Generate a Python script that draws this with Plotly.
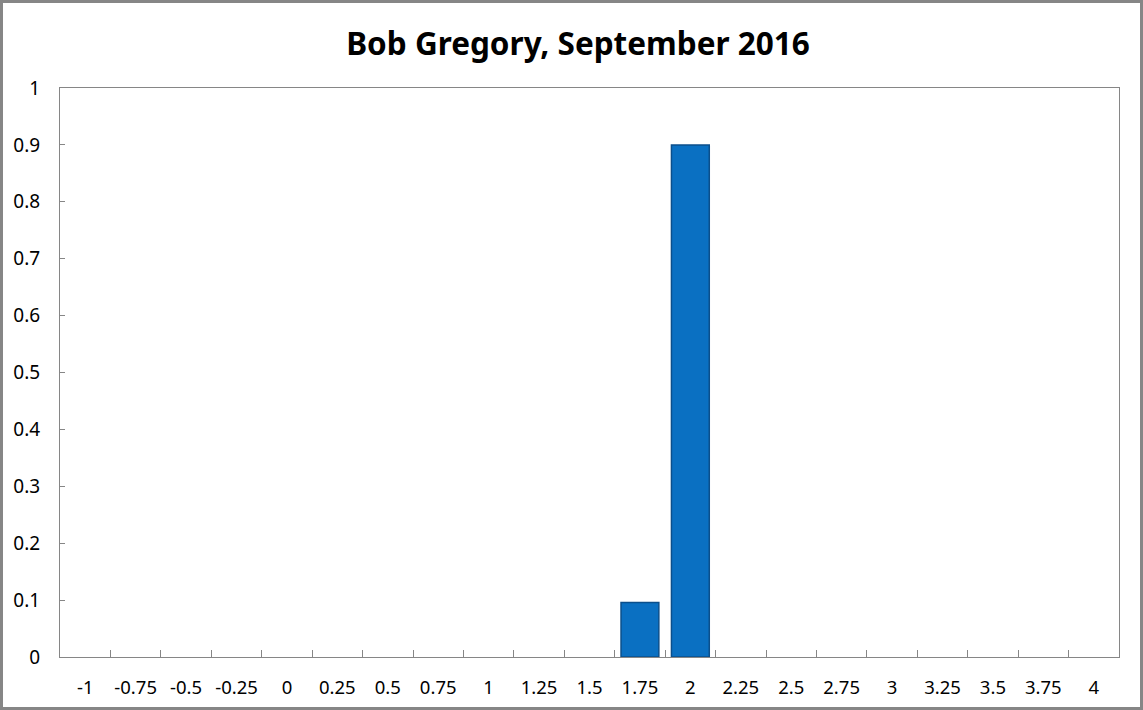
import plotly.graph_objects as go

categories = ["-1", "-0.75", "-0.5", "-0.25", "0", "0.25", "0.5", "0.75", "1", "1.25",
              "1.5", "1.75", "2", "2.25", "2.5", "2.75", "3", "3.25", "3.5", "3.75", "4"]
values = [0, 0, 0, 0, 0, 0, 0, 0, 0, 0, 0, 0.096, 0.9, 0, 0, 0, 0, 0, 0, 0, 0]
y_ticks = [0, 0.1, 0.2, 0.3, 0.4, 0.5, 0.6, 0.7, 0.8, 0.9, 1]
y_labels = ["0", "0.1", "0.2", "0.3", "0.4", "0.5", "0.6", "0.7", "0.8", "0.9", "1"]
title = "Bob Gregory, September 2016"

W, H = 1143, 710
ml, mr, mt, mb = 60, 24, 88, 53
pw, ph = W - ml - mr, H - mt - mb

fig = go.Figure()
fig.add_trace(go.Bar(
    x=categories, y=values,
    marker=dict(color="#0A70C2",
                line=dict(color="#0B4F8C", width=[1.5 if v > 0 else 0 for v in values])),
    width=0.75,
    hoverinfo="skip",
))

# outer chart border in paper coordinates
x0 = (1.5 - ml) / pw
x1 = (W - 1.5 - ml) / pw
y0 = -(mb - 1.5) / ph
y1 = 1 + (mt - 1.5) / ph
fig.add_shape(type="rect", xref="paper", yref="paper", x0=x0, x1=x1, y0=y0, y1=y1,
              line=dict(color="#868686", width=3), layer="below")

fig.update_layout(
    width=W, height=H,
    margin=dict(l=ml, r=mr, t=mt, b=mb, autoexpand=False),
    paper_bgcolor="white", plot_bgcolor="white",
    title=dict(text="<b>" + title + "</b>", x=(578 - ml) / pw, xref="paper", xanchor="center",
               y=1 - 44 / H, yanchor="middle",
               font=dict(family="Noto Sans, sans-serif", size=31.5, color="black")),
    showlegend=False,
    font=dict(family="Noto Sans, sans-serif", size=19, color="black"),
)
fig.update_xaxes(type="category", showline=True, mirror=True, linecolor="#868686", linewidth=1,
                 ticks="inside", tickson="boundaries", ticklen=7, tickcolor="#868686",
                 showgrid=False, ticklabelstandoff=14, tickfont=dict(size=18.5),
                 tickangle=0, automargin=False)
fig.update_yaxes(range=[0, 1], tickvals=y_ticks, ticktext=y_labels, showline=True, mirror=True,
                 linecolor="#868686", linewidth=1, showgrid=False, zeroline=False,
                 ticks="inside", ticklen=5, tickcolor="#868686",
                 ticklabelstandoff=15, tickfont=dict(size=19), automargin=False)

fig.write_html("out.html", config={"displayModeBar": False},
               post_script="document.body.style.margin='0';")
